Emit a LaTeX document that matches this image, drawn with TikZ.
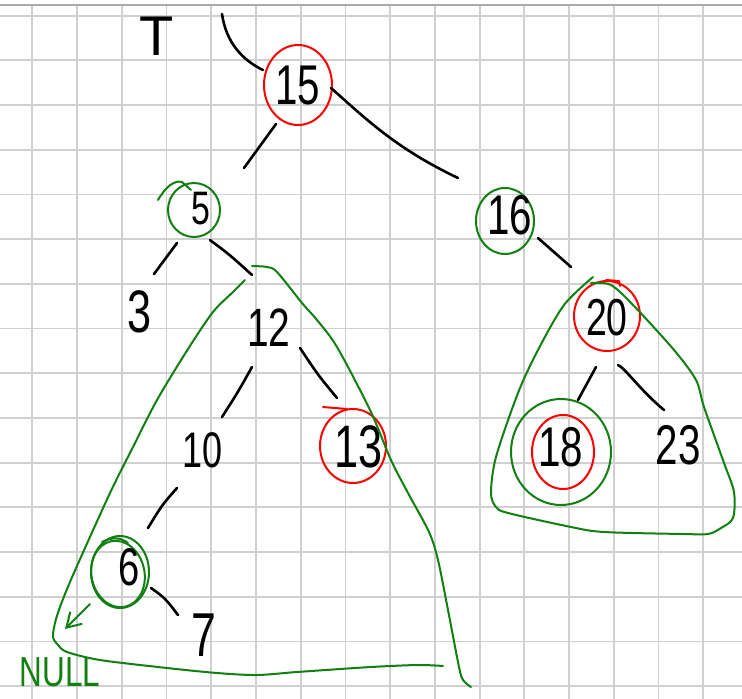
\documentclass[tikz,border=0pt]{standalone}
\usepackage{fontspec}
\setmainfont{Liberation Sans}
\usetikzlibrary{shapes.geometric,calc,arrows.meta}
\definecolor{hgreen}{RGB}{16,128,16}
\definecolor{hred}{RGB}{255,0,0}
\definecolor{gridc}{RGB}{208,208,208}
\definecolor{topc}{RGB}{170,170,170}
\newcommand\hw[2]{\scalebox{0.72}[1]{\fontsize{#1}{#1}\selectfont #2}}
\begin{document}
\begin{tikzpicture}[x=1pt,y=-1pt,
 ink/.style={line width=2.6pt, line cap=round, line join=round, black},
 gstroke/.style={line width=2pt, line cap=round, line join=round, draw=hgreen},
 rstroke/.style={line width=2pt, line cap=round, line join=round, draw=hred},
 gcirc/.style={ellipse, draw=hgreen, line width=2pt, inner sep=0pt},
 rcirc/.style={ellipse, draw=hred, line width=2pt, inner sep=0pt},
 lbl/.style={inner sep=0pt, text=black},
]
\useasboundingbox (0,0) rectangle (742,699);
\fill[white] (0,0) rectangle (742,699);
% grid
\foreach \k in {0,...,15} \draw[gridc, line width=1.8pt] ({32.3+44.73*\k},5) -- ({32.3+44.73*\k},699);
\foreach \k in {0,...,15} \draw[gridc, line width=1.8pt] (0,{15.6+44.7*\k}) -- (742,{15.6+44.7*\k});
\draw[topc, line width=1.8pt] (0,5) -- (742,5);

% circles
\node[rcirc, minimum width=68pt, minimum height=80pt] (c15) at (298,85) {};
\node[gcirc, minimum width=52pt, minimum height=54pt] (c5) at (194,210) {};
\node[rcirc, minimum width=66pt, minimum height=74pt] (c13) at (353,446) {};
\node[gcirc, minimum width=58pt, minimum height=72pt] (c6) at (120,572) {};
\node[gcirc, minimum width=53pt, minimum height=67pt, rotate=12] (c6b) at (118,574) {};
\node[gcirc, minimum width=58pt, minimum height=66pt] (c16) at (505,221) {};
\node[rcirc, minimum width=66pt, minimum height=70pt] (c20) at (607,316) {};
\node[rcirc, minimum width=62pt, minimum height=74pt] (c18) at (563,452) {};
\node[gcirc, minimum width=100pt, minimum height=106pt] (c18o) at (561,452) {};

% labels
\node[lbl] (T) at (157,36) {\fontsize{56}{56}\selectfont T};
\node[lbl] (n15) at (298,86) {\hw{56}{15}};
\node[lbl] (n5) at (201,209) {\hw{47}{5}};
\node[lbl] (n3) at (140,312) {\hw{60}{3}};
\node[lbl] (n12) at (269,328) {\hw{54}{12}};
\node[lbl] (n10) at (203,450) {\hw{50}{10}};
\node[lbl] (n13) at (359,447) {\hw{60}{13}};
\node[lbl] (n6) at (129,567) {\hw{53}{6}};
\node[lbl] (n7) at (204,635) {\hw{62}{7}};
\node[lbl] (n16) at (510,215) {\hw{56}{16}};
\node[lbl] (n20) at (607,318) {\hw{52}{20}};
\node[lbl] (n18) at (561,447) {\hw{56}{18}};
\node[lbl] (n23) at (678,445) {\hw{56}{23}};
\node[inner sep=0pt, text=hgreen] (null) at (60,672) {\scalebox{0.75}[1]{\fontsize{42}{42}\selectfont NULL}};

% connectors
\coordinate (tstart) at (222,14);
\draw[ink] (tstart) .. controls (226,42) and (242,60) .. ($(c15)+(-35,-15)$);
\draw[ink] ($(c15)+(33,3)$) .. controls (365,118) and (395,148) .. ($(c16)+(-47,-43)$);
\draw[ink] ($(c15)+(-22,39)$) -- ($(c5)+(50,-42)$);
\draw[ink] ($(c5)+(-17,33)$) -- ($(n3)+(14,-38)$);
\draw[ink] ($(c5)+(16,30)$) .. controls (230,255) .. ($(n12)+(-17,-53)$);
\draw[ink] ($(n12)+(-17,39)$) .. controls (238,392) .. ($(n10)+(19,-33)$);
\draw[ink] ($(n12)+(31,20)$) .. controls (318,375) .. ($(c13)+(-16,-48)$);
\draw[ink] ($(n10)+(-26,38)$) .. controls (162,505) .. ($(c6)+(28,-44)$);
\draw[ink] ($(c6)+(31,16)$) .. controls (165,598) .. ($(n7)+(-26,-20)$);
\draw[ink] ($(c16)+(33,17)$) -- ($(c20)+(-36,-49)$);
\draw[ink] ($(c20)+(-11,51)$) -- ($(c18)+(15,-52)$);
\draw[ink] ($(c20)+(11,49)$) .. controls (625,368) and (640,390) .. ($(n23)+(-14,-35)$);

% NULL arrow
\coordinate (nulltip) at (65,629);
\draw[gstroke, -{Straight Barb[length=14pt,width=17pt]}] ($(c6)+(-30,32)$) -- (nulltip);

% small strokes
\draw[gstroke] (158,200) .. controls (166,186) and (175,180) .. (182,182) -- (191,190);
\draw[gstroke] (102,542) .. controls (112,537) and (120,537) .. (128,543);
\draw[rstroke] (323,407) -- (347,409);
\draw[rstroke] (606,280) -- (619,281) -- (620,286);

% subtree outlines
\draw[gstroke] plot[smooth, tension=0.5] coordinates {(252,266) (267,267) (277,272) (302,303) (317,320) (337,347) (370,410) (391,460) (408,493) (429,532) (438,560) (448,610) (459,667) (463,680) (471,687)};
\draw[gstroke] plot[smooth, tension=0.5] coordinates {(443,666) (418,665) (371,667) (297,672) (257,675) (217,673) (167,668) (100,660) (67,652) (58,645) (53,637) (55,623) (60,607) (73,575) (110,493) (133,447) (157,400) (188,349) (213,312) (233,292) (245,280)};
\draw[gstroke] plot[smooth, tension=0.5] coordinates {(593,277) (564,305) (538,350) (518,393) (496,457) (491,493) (496,507) (508,513) (571,527) (604,532) (683,534) (708,534) (721,528) (733,518) (734,492) (724,463) (704,407) (696,380) (674,350) (634,306) (611,285) (591,283)};
\end{tikzpicture}
\end{document}
